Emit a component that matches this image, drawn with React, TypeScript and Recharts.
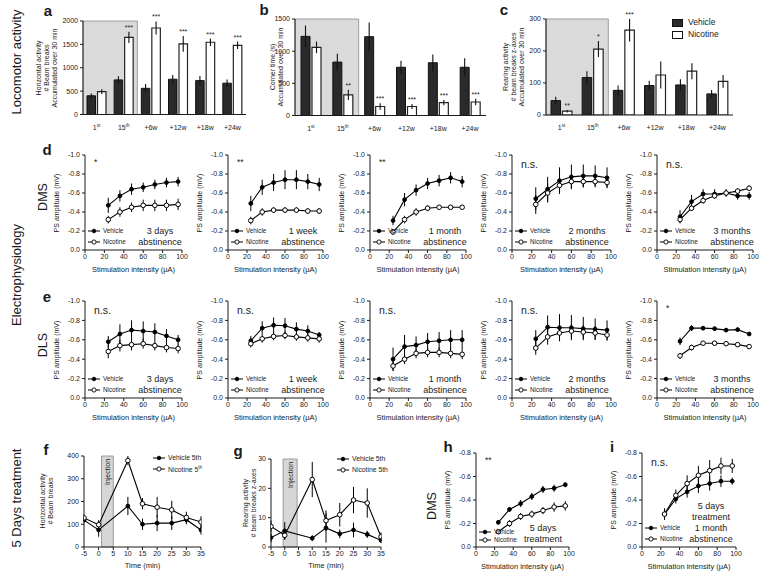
import React from 'react'
import {
  Bar,
  ComposedChart,
  ErrorBar,
  LabelList,
  Line,
  ReferenceArea,
  XAxis,
  YAxis,
} from 'recharts'

const FONT = '"Liberation Sans", Arial, Helvetica, sans-serif'
const INK = '#1a1a1a'
const TICK = { fontSize: 7, fill: INK }

// ---------- a, b, c : locomotor bars ----------
const sessions = ['1st', '15th', '+6w', '+12w', '+18w', '+24w']

const horizVehicle = [400, 740, 560, 755, 725, 670]
const horizVehicleErr = [50, 80, 90, 90, 100, 80]
const horizNicotine = [490, 1650, 1850, 1510, 1545, 1480]
const horizNicotineErr = [50, 120, 140, 170, 80, 80]
const horizStars = ['', '***', '***', '***', '***', '***']
const horizTicks = [0, 500, 1000, 1500, 2000]

const cornerVehicle = [1230, 830, 1225, 750, 820, 750]
const cornerVehicleErr = [170, 130, 220, 100, 130, 140]
const cornerNicotine = [1060, 320, 140, 140, 200, 210]
const cornerNicotineErr = [90, 80, 50, 40, 40, 50]
const cornerStars = ['', '**', '***', '***', '***', '***']
const cornerTicks = [0, 500, 1000, 1500]

const rearVehicle = [45, 117, 77, 92, 94, 66]
const rearVehicleErr = [12, 20, 15, 15, 18, 12]
const rearNicotine = [12, 206, 265, 125, 137, 105]
const rearNicotineErr = [4, 25, 35, 42, 25, 20]
const rearStars = ['**', '*', '***', '', '', '']
const rearTicks = [0, 100, 200, 300]

// ---------- d, e, h, i : PS amplitude ----------
const intensity = [24, 36, 48, 60, 72, 84, 96]
const intensityTicks = [0, 20, 40, 60, 80, 100]
const psTicks = [-1, -0.8, -0.6, -0.4, -0.2, 0]
const psTicksShort = [-0.8, -0.6, -0.4, -0.2, 0]

// DMS
const dms3dVeh = [-0.47, -0.57, -0.64, -0.66, -0.69, -0.71, -0.72]
const dms3dVehErr = [0.08, 0.06, 0.06, 0.05, 0.05, 0.05, 0.05]
const dms3dNic = [-0.32, -0.4, -0.45, -0.47, -0.47, -0.47, -0.48]
const dms3dNicErr = [0.04, 0.05, 0.05, 0.06, 0.06, 0.06, 0.06]

const dms1wVeh = [-0.49, -0.66, -0.71, -0.74, -0.74, -0.72, -0.69]
const dms1wVehErr = [0.08, 0.08, 0.09, 0.1, 0.1, 0.08, 0.07]
const dms1wNic = [-0.31, -0.4, -0.42, -0.42, -0.42, -0.41, -0.41]
const dms1wNicErr = [0.04, 0.04, 0.03, 0.03, 0.03, 0.03, 0.03]

const dms1mVeh = [-0.31, -0.53, -0.63, -0.7, -0.73, -0.76, -0.72]
const dms1mVehErr = [0.05, 0.07, 0.06, 0.06, 0.06, 0.06, 0.06]
const dms1mNic = [-0.19, -0.32, -0.4, -0.44, -0.45, -0.45, -0.45]
const dms1mNicErr = [0.03, 0.04, 0.04, 0.03, 0.02, 0.02, 0.02]

const dms2mVeh = [-0.54, -0.64, -0.73, -0.77, -0.78, -0.78, -0.76]
const dms2mVehErr = [0.12, 0.13, 0.14, 0.13, 0.12, 0.11, 0.11]
const dms2mNic = [-0.48, -0.6, -0.68, -0.72, -0.72, -0.72, -0.71]
const dms2mNicErr = [0.1, 0.1, 0.08, 0.07, 0.06, 0.06, 0.05]

const dms3mVeh = [-0.35, -0.51, -0.59, -0.59, -0.6, -0.57, -0.57]
const dms3mVehErr = [0.07, 0.07, 0.05, 0.05, 0.04, 0.04, 0.04]
const dms3mNic = [-0.32, -0.44, -0.52, -0.57, -0.6, -0.62, -0.65]
const dms3mNicErr = [0.03, 0.03, 0.03, 0.03, 0.03, 0.03, 0.03]

// DLS
const dls3dVeh = [-0.58, -0.66, -0.7, -0.69, -0.68, -0.64, -0.6]
const dls3dVehErr = [0.06, 0.1, 0.1, 0.1, 0.09, 0.07, 0.05]
const dls3dNic = [-0.48, -0.54, -0.55, -0.56, -0.54, -0.52, -0.51]
const dls3dNicErr = [0.07, 0.06, 0.06, 0.05, 0.05, 0.05, 0.05]

const dls1wVeh = [-0.59, -0.72, -0.75, -0.745, -0.71, -0.69, -0.65]
const dls1wVehErr = [0.05, 0.07, 0.08, 0.08, 0.07, 0.06, 0.03]
const dls1wNic = [-0.56, -0.61, -0.635, -0.645, -0.63, -0.62, -0.61]
const dls1wNicErr = [0.04, 0.04, 0.04, 0.04, 0.04, 0.04, 0.04]

const dls1mVeh = [-0.4, -0.53, -0.545, -0.58, -0.59, -0.6, -0.6]
const dls1mVehErr = [0.12, 0.12, 0.09, 0.09, 0.09, 0.1, 0.1]
const dls1mNic = [-0.33, -0.4, -0.46, -0.47, -0.47, -0.46, -0.45]
const dls1mNicErr = [0.05, 0.05, 0.05, 0.05, 0.05, 0.05, 0.05]

const dls2mVeh = [-0.61, -0.73, -0.725, -0.725, -0.715, -0.71, -0.7]
const dls2mVehErr = [0.09, 0.12, 0.14, 0.13, 0.12, 0.11, 0.1]
const dls2mNic = [-0.515, -0.63, -0.67, -0.69, -0.68, -0.67, -0.65]
const dls2mNicErr = [0.07, 0.08, 0.08, 0.07, 0.07, 0.07, 0.06]

const dls3mVeh = [-0.585, -0.72, -0.72, -0.715, -0.7, -0.705, -0.66]
const dls3mVehErr = [0.04, 0.03, 0.02, 0.02, 0.02, 0.02, 0.02]
const dls3mNic = [-0.435, -0.52, -0.565, -0.565, -0.56, -0.55, -0.53]
const dls3mNicErr = [0.03, 0.03, 0.02, 0.02, 0.02, 0.02, 0.02]

// 5 days treatment, DMS
const trtVeh = [-0.21, -0.32, -0.37, -0.43, -0.49, -0.5, -0.53]
const trtVehErr = [0.02, 0.02, 0.03, 0.03, 0.03, 0.03, 0.02]
const trtNic = [-0.13, -0.2, -0.26, -0.28, -0.31, -0.34, -0.35]
const trtNicErr = [0.02, 0.03, 0.03, 0.03, 0.03, 0.04, 0.04]

const trtAbsVeh = [-0.28, -0.41, -0.47, -0.52, -0.54, -0.56, -0.56]
const trtAbsVehErr = [0.04, 0.04, 0.05, 0.06, 0.06, 0.05, 0.03]
const trtAbsNic = [-0.28, -0.44, -0.54, -0.61, -0.65, -0.69, -0.69]
const trtAbsNicErr = [0.05, 0.05, 0.07, 0.08, 0.09, 0.07, 0.06]

// ---------- f, g : time course ----------
const minutes = [-5, 0, 10, 15, 20, 25, 30, 35]
const minuteTicks = [-5, 0, 5, 10, 15, 20, 25, 30, 35]

const horizTimeVeh = [118, 75, 180, 100, 105, 105, 120, 75]
const horizTimeVehErr = [10, 30, 40, 25, 35, 30, 20, 20]
const horizTimeNic = [128, 98, 380, 190, 175, 163, 130, 110]
const horizTimeNicErr = [15, 20, 20, 25, 45, 40, 25, 25]
const horizTimeTicks = [0, 100, 200, 300, 400]

const rearTimeVeh = [3.2, 5.5, 3, 6.5, 4.5, 5.8, 4.3, 2.3]
const rearTimeVehErr = [1.5, 3, 1, 5, 1.5, 2.5, 1.2, 1]
const rearTimeNic = [7, 4, 23, 9, 11, 16, 15, 3.5]
const rearTimeNicErr = [2, 1.5, 6, 3.5, 4, 4.5, 5, 1.5]
const rearTimeTicks = [0, 10, 20, 30]

const YW = 34
const MT = 6
const MR = 8
const XH = 18

function Txt({ x, y, size = 7, anchor = 'middle', bold = false, rotate = false, lh = 1.15, children }: any) {
  const tx = anchor === 'start' ? '0' : anchor === 'end' ? '-100%' : '-50%'
  return (
    <div
      style={{
        position: 'absolute',
        left: x,
        top: y,
        fontSize: size,
        lineHeight: lh,
        fontWeight: bold ? 700 : 400,
        whiteSpace: 'nowrap',
        textAlign: 'center',
        transform: rotate ? 'translate(-50%,-50%) rotate(-90deg)' : `translate(${tx},-50%)`,
      }}
    >
      {children}
    </div>
  )
}

function LegendRow({ x, y, filled, size = 6.3, children }: any) {
  return (
    <div style={{ position: 'absolute', left: x, top: y - 4, height: 8, display: 'flex', alignItems: 'center', fontSize: size, lineHeight: '8px', whiteSpace: 'nowrap' }}>
      <svg width={12} height={6} style={{ display: 'block' }}>
        <line x1={0} y1={3} x2={12} y2={3} stroke="#000" strokeWidth={1} />
        <circle cx={6} cy={3} r={filled ? 1.8 : 2.1} fill={filled ? '#000' : '#fff'} stroke="#000" strokeWidth={0.9} />
      </svg>
      <span style={{ marginLeft: 3 }}>{children}</span>
    </div>
  )
}

const SessionTick = (props: any) => {
  const { x, y, payload } = props
  const m = /^(\d+)(st|th)$/.exec(payload.value)
  return (
    <text x={x} y={y + 7} textAnchor="middle" fontSize={7} fill={INK}>
      {m ? (
        <>
          {m[1]}
          <tspan fontSize={4.5} dy={-3}>{m[2]}</tspan>
        </>
      ) : (
        payload.value
      )}
    </text>
  )
}

const starContent = (vals: number[], errs: number[]) => (props: any) => {
  const s = props.value
  const i = props.index
  if (!s) return null
  const vb = props.viewBox || props
  const pxPerUnit = vals[i] ? vb.height / vals[i] : 0
  const top = vb.y - errs[i] * pxPerUnit
  return (
    <text x={vb.x + vb.width / 2} y={top - 2} textAnchor="middle" fontSize={7} fill={INK}>
      {s}
    </text>
  )
}

function BarPanel({ left, top, w, h, vehicle, vehicleErr, nicotine, nicotineErr, stars, yTicks, barSize }: any) {
  const rows = sessions.map((s, i) => ({
    s,
    veh: vehicle[i],
    vehErr: vehicleErr[i],
    nic: nicotine[i],
    nicErr: nicotineErr[i],
    star: stars[i],
  }))
  const yMax = yTicks[yTicks.length - 1]
  const mt = 14
  return (
    <div style={{ position: 'absolute', left: left - YW, top: top - mt }}>
      <ComposedChart
        width={YW + w + MR}
        height={mt + h + XH}
        data={rows}
        margin={{ top: mt, right: MR, left: 0, bottom: 0 }}
        barGap={2}
      >
        <ReferenceArea x1="1st" x2="15th" y1={0} y2={yMax} fill="#dadada" fillOpacity={1} stroke="#8a8a8a" strokeWidth={0.8} />
        <XAxis dataKey="s" type="category" height={XH} tickLine={false} tick={<SessionTick />} stroke={INK} interval={0} />
        <YAxis type="number" domain={[0, yMax]} ticks={yTicks} allowDataOverflow width={YW} tickSize={3} tickMargin={2} tick={TICK} stroke={INK} interval={0} />
        <Bar dataKey="veh" fill="#2a2a2a" stroke="#111" strokeWidth={1} barSize={barSize} isAnimationActive={false}>
          <ErrorBar dataKey="vehErr" width={0} stroke="#111" strokeWidth={1.1} />
        </Bar>
        <Bar dataKey="nic" fill="#fff" stroke="#222" strokeWidth={1.2} barSize={barSize} isAnimationActive={false}>
          <ErrorBar dataKey="nicErr" width={0} stroke="#111" strokeWidth={1.1} />
          <LabelList dataKey="star" content={starContent(nicotine, nicotineErr)} />
        </Bar>
      </ComposedChart>
    </div>
  )
}

function PsPanel({ left, top, w, h, yTicks = psTicks, veh, vehErr, nic, nicErr, sig, title, titleX, legendY }: any) {
  const rows = intensity.map((x, i) => ({ x, veh: veh[i], vehErr: vehErr[i], nic: nic[i], nicErr: nicErr[i] }))
  const bottom = top + h
  const tx = titleX ?? left + 75
  const ly = legendY ?? [bottom - 19, bottom - 8]
  return (
    <>
      <div style={{ position: 'absolute', left: left - YW, top: top - MT }}>
        <ComposedChart width={YW + w + MR} height={MT + h + XH} data={rows} margin={{ top: MT, right: MR, left: 0, bottom: 0 }}>
          <XAxis type="number" dataKey="x" domain={[0, 100]} ticks={intensityTicks} allowDataOverflow height={XH} tickSize={3} tickMargin={1} tick={TICK} stroke={INK} interval={0} />
          <YAxis
            type="number"
            domain={[yTicks[0], 0]}
            ticks={yTicks}
            reversed
            allowDataOverflow
            width={YW}
            tickSize={3}
            tickMargin={2}
            tick={TICK}
            stroke={INK}
            interval={0}
            tickFormatter={(v: number) => v.toFixed(1)}
          />
          <Line dataKey="veh" stroke="#000" strokeWidth={1.1} dot={{ r: 1.9, fill: '#000', stroke: '#000', strokeWidth: 1 }} isAnimationActive={false}>
            <ErrorBar dataKey="vehErr" direction="y" width={0} stroke="#000" strokeWidth={1} />
          </Line>
          <Line dataKey="nic" stroke="#000" strokeWidth={1.1} dot={{ r: 2.3, fill: '#fff', stroke: '#000', strokeWidth: 1 }} isAnimationActive={false}>
            <ErrorBar dataKey="nicErr" direction="y" width={0} stroke="#000" strokeWidth={1} />
          </Line>
        </ComposedChart>
      </div>
      <Txt x={left - 28} y={top + h / 2} rotate>PS amplitude (mV)</Txt>
      <Txt x={left + w / 2} y={bottom + 20} size={7.5}>Stimulation intensity (µA)</Txt>
      <Txt x={left + 9} y={top + (sig === 'n.s.' ? 9 : 8)} anchor="start" size={sig === 'n.s.' ? 10.5 : 8.5}>{sig}</Txt>
      {title.map((t: string, i: number) => (
        <Txt key={t} x={tx} y={bottom - 8 - (title.length - 1 - i) * 11} size={9}>{t}</Txt>
      ))}
      <LegendRow x={left + 3} y={ly[0]} filled>Vehicle</LegendRow>
      <LegendRow x={left + 3} y={ly[1]}>Nicotine</LegendRow>
    </>
  )
}

const injectionLabel = (props: any) => {
  const vb = props.viewBox
  if (!vb) return null
  const cx = vb.x + vb.width / 2
  const cy = vb.y + 16
  return (
    <text x={cx} y={cy} transform={`rotate(-90 ${cx} ${cy})`} textAnchor="middle" dominantBaseline="central" fontSize={7} fill={INK}>
      Injection
    </text>
  )
}

function TimePanel({ left, top, w, h, yTicks, veh, vehErr, nic, nicErr, inj }: any) {
  const rows = minutes.map((x, i) => ({ x, veh: veh[i], vehErr: vehErr[i], nic: nic[i], nicErr: nicErr[i] }))
  const yMax = yTicks[yTicks.length - 1]
  return (
    <>
      <div style={{ position: 'absolute', left: left - YW, top: top - MT }}>
        <ComposedChart width={YW + w + MR} height={MT + h + XH} data={rows} margin={{ top: MT, right: MR, left: 0, bottom: 0 }}>
          <ReferenceArea x1={inj[0]} x2={inj[1]} y1={0} y2={yMax} fill="#d6d6d6" fillOpacity={1} stroke="#888" strokeWidth={0.8} label={injectionLabel} />
          <XAxis type="number" dataKey="x" domain={[-5, 35]} ticks={minuteTicks} allowDataOverflow height={XH} tickSize={3} tickMargin={1} tick={TICK} stroke={INK} interval={0} />
          <YAxis type="number" domain={[0, yMax]} ticks={yTicks} allowDataOverflow width={YW} tickSize={3} tickMargin={2} tick={TICK} stroke={INK} interval={0} />
          <Line dataKey="veh" stroke="#000" strokeWidth={1.1} dot={{ r: 1.9, fill: '#000', stroke: '#000', strokeWidth: 1 }} isAnimationActive={false}>
            <ErrorBar dataKey="vehErr" direction="y" width={0} stroke="#000" strokeWidth={1} />
          </Line>
          <Line dataKey="nic" stroke="#000" strokeWidth={1.1} dot={{ r: 2.3, fill: '#fff', stroke: '#000', strokeWidth: 1 }} isAnimationActive={false}>
            <ErrorBar dataKey="nicErr" direction="y" width={0} stroke="#000" strokeWidth={1} />
          </Line>
        </ComposedChart>
      </div>
      <Txt x={left + w / 2} y={top + h + 19} size={7.5}>Time (min)</Txt>
    </>
  )
}

const colLeft = [85, 228, 370, 512, 657]
const colW = [97, 95, 96, 99, 96]

const dmsPanels = [
  { veh: dms3dVeh, vehErr: dms3dVehErr, nic: dms3dNic, nicErr: dms3dNicErr, sig: '*', title: ['3 days', 'abstinence'] },
  { veh: dms1wVeh, vehErr: dms1wVehErr, nic: dms1wNic, nicErr: dms1wNicErr, sig: '**', title: ['1 week', 'abstinence'] },
  { veh: dms1mVeh, vehErr: dms1mVehErr, nic: dms1mNic, nicErr: dms1mNicErr, sig: '**', title: ['1 month', 'abstinence'] },
  { veh: dms2mVeh, vehErr: dms2mVehErr, nic: dms2mNic, nicErr: dms2mNicErr, sig: 'n.s.', title: ['2 months', 'abstinence'] },
  { veh: dms3mVeh, vehErr: dms3mVehErr, nic: dms3mNic, nicErr: dms3mNicErr, sig: 'n.s.', title: ['3 months', 'abstinence'] },
]

const dlsPanels = [
  { veh: dls3dVeh, vehErr: dls3dVehErr, nic: dls3dNic, nicErr: dls3dNicErr, sig: 'n.s.', title: ['3 days', 'abstinence'] },
  { veh: dls1wVeh, vehErr: dls1wVehErr, nic: dls1wNic, nicErr: dls1wNicErr, sig: 'n.s.', title: ['1 week', 'abstinence'] },
  { veh: dls1mVeh, vehErr: dls1mVehErr, nic: dls1mNic, nicErr: dls1mNicErr, sig: 'n.s.', title: ['1 month', 'abstinence'] },
  { veh: dls2mVeh, vehErr: dls2mVehErr, nic: dls2mNic, nicErr: dls2mNicErr, sig: 'n.s.', title: ['2 months', 'abstinence'] },
  { veh: dls3mVeh, vehErr: dls3mVehErr, nic: dls3mNic, nicErr: dls3mNicErr, sig: '*', title: ['3 months', 'abstinence'] },
]

export default function App() {
  return (
    <div
      style={{
        position: 'absolute',
        left: 0,
        top: 0,
        width: 763,
        height: 573,
        overflow: 'hidden',
        background: '#fff',
        color: INK,
        fontFamily: FONT,
      }}
    >
      {/* row labels */}
      <Txt x={17} y={62} size={13} rotate>Locomotor activity</Txt>
      <Txt x={17} y={275} size={13} rotate>Electrophysiology</Txt>
      <Txt x={17} y={498} size={13} rotate>5 Days treatment</Txt>
      <Txt x={43} y={197} size={12.5} rotate>DMS</Txt>
      <Txt x={43} y={345} size={12.5} rotate>DLS</Txt>
      <Txt x={432} y={506} size={12.5} rotate>DMS</Txt>

      {/* panel letters */}
      <Txt x={48} y={11} size={15} bold>a</Txt>
      <Txt x={264} y={10} size={15} bold>b</Txt>
      <Txt x={504} y={10} size={15} bold>c</Txt>
      <Txt x={47} y={150} size={15} bold>d</Txt>
      <Txt x={47} y={297} size={15} bold>e</Txt>
      <Txt x={46} y={450} size={15} bold>f</Txt>
      <Txt x={238} y={451} size={15} bold>g</Txt>
      <Txt x={448} y={447} size={15} bold>h</Txt>
      <Txt x={612} y={447} size={15} bold>i</Txt>

      {/* a */}
      <BarPanel left={83} top={21} w={163} h={93.5} vehicle={horizVehicle} vehicleErr={horizVehicleErr} nicotine={horizNicotine} nicotineErr={horizNicotineErr} stars={horizStars} yTicks={horizTicks} barSize={8.5} />
      <Txt x={47} y={68} rotate lh="8px">
        Horizontal activity<br /># Beam breaks<br />Accumulated over 30 min
      </Txt>

      {/* b */}
      <BarPanel left={295} top={18.5} w={191} h={96.5} vehicle={cornerVehicle} vehicleErr={cornerVehicleErr} nicotine={cornerNicotine} nicotineErr={cornerNicotineErr} stars={cornerStars} yTicks={cornerTicks} barSize={9} />
      <Txt x={277} y={67} rotate lh="8px">
        Corner time (s)<br />Accumulated over 30 min
      </Txt>

      {/* c */}
      <BarPanel left={546} top={19} w={187} h={96} vehicle={rearVehicle} vehicleErr={rearVehicleErr} nicotine={rearNicotine} nicotineErr={rearNicotineErr} stars={rearStars} yTicks={rearTicks} barSize={9.5} />
      <Txt x={514} y={67} rotate lh="8px">
        Rearing activity<br /># beam breaks z-axes<br />Accumulated over 30 min
      </Txt>
      <div style={{ position: 'absolute', left: 672, top: 19, width: 9, height: 6, background: '#2a2a2a', border: '1px solid #111' }} />
      <div style={{ position: 'absolute', left: 672, top: 31, width: 9, height: 6, background: '#fff', border: '1px solid #111' }} />
      <Txt x={688} y={22.5} size={8.5} anchor="start">Vehicle</Txt>
      <Txt x={688} y={34.5} size={8.5} anchor="start">Nicotine</Txt>

      {/* d : DMS */}
      {dmsPanels.map((p, i) => (
        <PsPanel key={`d${i}`} left={colLeft[i]} top={155} w={colW[i]} h={95} {...p} />
      ))}

      {/* e : DLS */}
      {dlsPanels.map((p, i) => (
        <PsPanel key={`e${i}`} left={colLeft[i]} top={301} w={colW[i]} h={97} {...p} />
      ))}

      {/* f */}
      <TimePanel left={84} top={456} w={117} h={91} yTicks={horizTimeTicks} veh={horizTimeVeh} vehErr={horizTimeVehErr} nic={horizTimeNic} nicErr={horizTimeNicErr} inj={[1, 5]} />
      <Txt x={47} y={501} rotate lh="8px">
        Horizontal activity<br /># Beam breaks
      </Txt>
      <LegendRow x={153} y={458} filled size={6.8}>Vehicle 5th</LegendRow>
      <LegendRow x={153} y={469} size={6.8}>
        Nicotine 5<sup style={{ fontSize: 4.5 }}>th</sup>
      </LegendRow>

      {/* g */}
      <TimePanel left={271} top={459} w={110} h={88} yTicks={rearTimeTicks} veh={rearTimeVeh} vehErr={rearTimeVehErr} nic={rearTimeNic} nicErr={rearTimeNicErr} inj={[-0.6, 4.5]} />
      <Txt x={250} y={503} rotate lh="8px">
        Rearing activity<br /># beam breaks z-axes
      </Txt>
      <LegendRow x={337} y={459} filled size={6.8}>Vehicle 5th</LegendRow>
      <LegendRow x={337} y={470} size={6.8}>Nicotine 5th</LegendRow>

      {/* h */}
      <PsPanel left={476} top={453} w={93} h={94} yTicks={psTicksShort} veh={trtVeh} vehErr={trtVehErr} nic={trtNic} nicErr={trtNicErr} sig="**" title={['5 days', 'treatment']} titleX={543} legendY={[532, 540]} />

      {/* i */}
      <PsPanel left={642} top={453} w={94} h={94} yTicks={psTicksShort} veh={trtAbsVeh} vehErr={trtAbsVehErr} nic={trtAbsNic} nicErr={trtAbsNicErr} sig="n.s." title={['5 days', 'treatment', '1 month', 'abstinence']} titleX={711} legendY={[528, 539]} />
    </div>
  )
}
